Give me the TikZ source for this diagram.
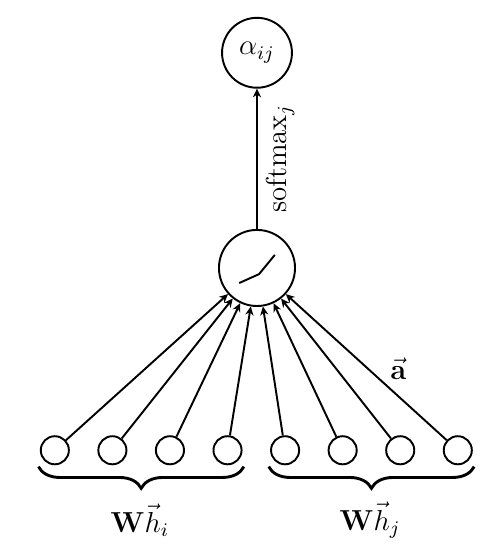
\documentclass[tikz,border=0pt]{standalone}
\usepackage{amsmath}
\usepackage{amssymb}
\usepackage{bm}
\usepackage{tikz}
\usetikzlibrary{decorations.pathreplacing}
\usetikzlibrary{arrows.meta}

\begin{document}
\begin{tikzpicture}[
            font=\large,
            main node/.style={circle,draw,thick,minimum size=1.02cm,inner sep=0pt},
            feat node/.style={circle,draw,thick,minimum size=0.41cm,inner sep=0pt},
            brace line/.style={decorate,decoration={brace,mirror,amplitude=9pt},very thick},
            edge line/.style={thick,-{Stealth[length=3.6pt,width=3.4pt]}},
            ]
            \useasboundingbox (0,0) rectangle (7.105,8.04);

            \node[main node] (alpha) at (3.75,7.27) {$\alpha_{ij}$};
            \node[main node, minimum size=1.11cm] (relu) at (3.75,4.13) {};
            \draw[thick] ([shift={(-0.26,-0.22)}]relu.center) -- ([shift={(0.03,-0.09)}]relu.center) -- ([shift={(0.26,0.19)}]relu.center);

            \node[feat node] (h1) at (0.80,1.47) {};
            \node[feat node] (h2) at (1.64,1.47) {};
            \node[feat node] (h3) at (2.48,1.47) {};
            \node[feat node] (h4) at (3.32,1.47) {};
            \node[feat node] (h5) at (4.16,1.47) {};
            \node[feat node] (h6) at (5.00,1.47) {};
            \node[feat node] (h7) at (5.84,1.47) {};
            \node[feat node] (h8) at (6.68,1.47) {};

            \draw[edge line] (h1) -- (relu);
            \draw[edge line] (h2) -- (relu);
            \draw[edge line] (h3) -- (relu);
            \draw[edge line] (h4) -- (relu);
            \draw[edge line] (h5) -- (relu);
            \draw[edge line] (h6) -- (relu);
            \draw[edge line] (h7) -- (relu);
            \draw[edge line] (h8) -- (relu);
            \draw[edge line] (relu) -- node[rotate=90, anchor=north] {$\text{softmax}_j$} (alpha);

            \node (avec) at (5.81,2.66) {$\vec{\mathbf{a}}$};

            \draw[brace line] ([xshift=-0.02cm,yshift=-0.02cm]h1.west |- h1.south) -- ([xshift=0.02cm,yshift=-0.02cm]h4.east |- h4.south);
            \draw[brace line] ([xshift=-0.02cm,yshift=-0.02cm]h5.west |- h5.south) -- ([xshift=0.02cm,yshift=-0.02cm]h8.east |- h8.south);

            \node (whi) at (2.04,0.45) {$\mathbf{W}\vec{h}_i$};
            \node (whj) at (5.40,0.45) {$\mathbf{W}\vec{h}_j$};
        \end{tikzpicture}
\end{document}
